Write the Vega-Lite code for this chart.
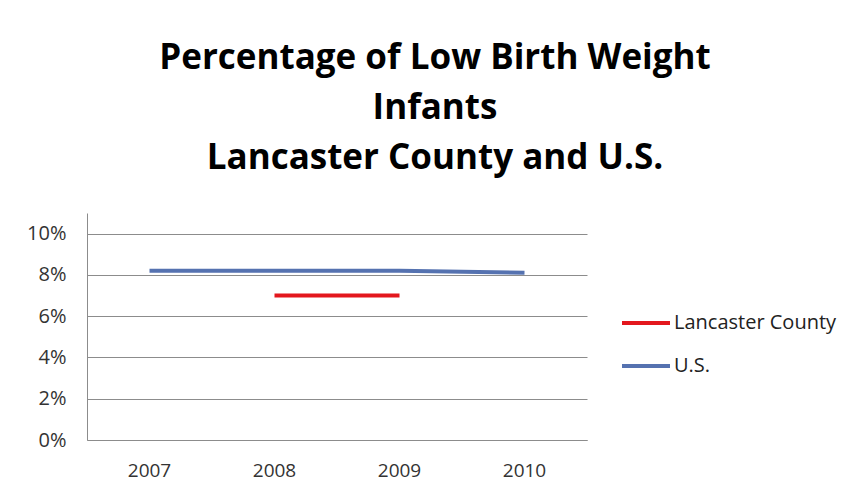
{
  "$schema": "https://vega.github.io/schema/vega-lite/v6.json",
  "width": 500,
  "height": 227,
  "autosize": {"type": "none"},
  "padding": {"left": 87, "top": 213, "right": 263, "bottom": 55},
  "background": "white",
  "title": {
    "text": ["Percentage of Low Birth Weight", "Infants", "Lancaster County and U.S."],
    "font": "Open Sans",
    "fontSize": 35,
    "fontWeight": "bold",
    "color": "#000000",
    "anchor": "middle",
    "dx": 98,
    "lineHeight": 50,
    "offset": 37
  },
  "data": {
    "values": [
      {"year": "2007", "series": "U.S.", "pct": 0.082},
      {"year": "2008", "series": "U.S.", "pct": 0.082},
      {"year": "2009", "series": "U.S.", "pct": 0.082},
      {"year": "2010", "series": "U.S.", "pct": 0.081},
      {"year": "2008", "series": "Lancaster County", "pct": 0.070},
      {"year": "2009", "series": "Lancaster County", "pct": 0.070}
    ]
  },
  "mark": {"type": "line", "strokeWidth": 4, "strokeCap": "butt"},
  "encoding": {
    "x": {
      "field": "year",
      "type": "ordinal",
      "scale": {"type": "band", "paddingInner": 0, "paddingOuter": 0},
      "axis": {
        "title": null,
        "labelAngle": 0,
        "labelFont": "Open Sans",
        "labelFontSize": 19,
        "labelColor": "#333333",
        "labelPadding": 21,
        "domainColor": "#8c8c8c",
        "ticks": false,
        "grid": false
      }
    },
    "y": {
      "field": "pct",
      "type": "quantitative",
      "scale": {"domain": [0, 0.11], "nice": false},
      "axis": {
        "title": null,
        "values": [0, 0.02, 0.04, 0.06, 0.08, 0.1],
        "format": ".0%",
        "labelFont": "Open Sans",
        "labelFontSize": 20,
        "labelColor": "#333333",
        "labelPadding": 21,
        "domainColor": "#8c8c8c",
        "ticks": false,
        "gridColor": "#8c8c8c",
        "gridWidth": 1
      }
    },
    "color": {
      "field": "series",
      "type": "nominal",
      "scale": {"domain": ["Lancaster County", "U.S."], "range": ["#E3171D", "#5572B0"]},
      "legend": {
        "title": null,
        "orient": "none",
        "legendX": 533,
        "legendY": 84,
        "symbolType": "stroke",
        "symbolSize": 2304,
        "symbolStrokeWidth": 4,
        "labelFont": "Open Sans",
        "labelFontSize": 20,
        "labelColor": "#222222",
        "labelOffset": 2,
        "labelLimit": 300,
        "rowPadding": 7
      }
    }
  },
  "config": {"view": {"stroke": null}}
}
